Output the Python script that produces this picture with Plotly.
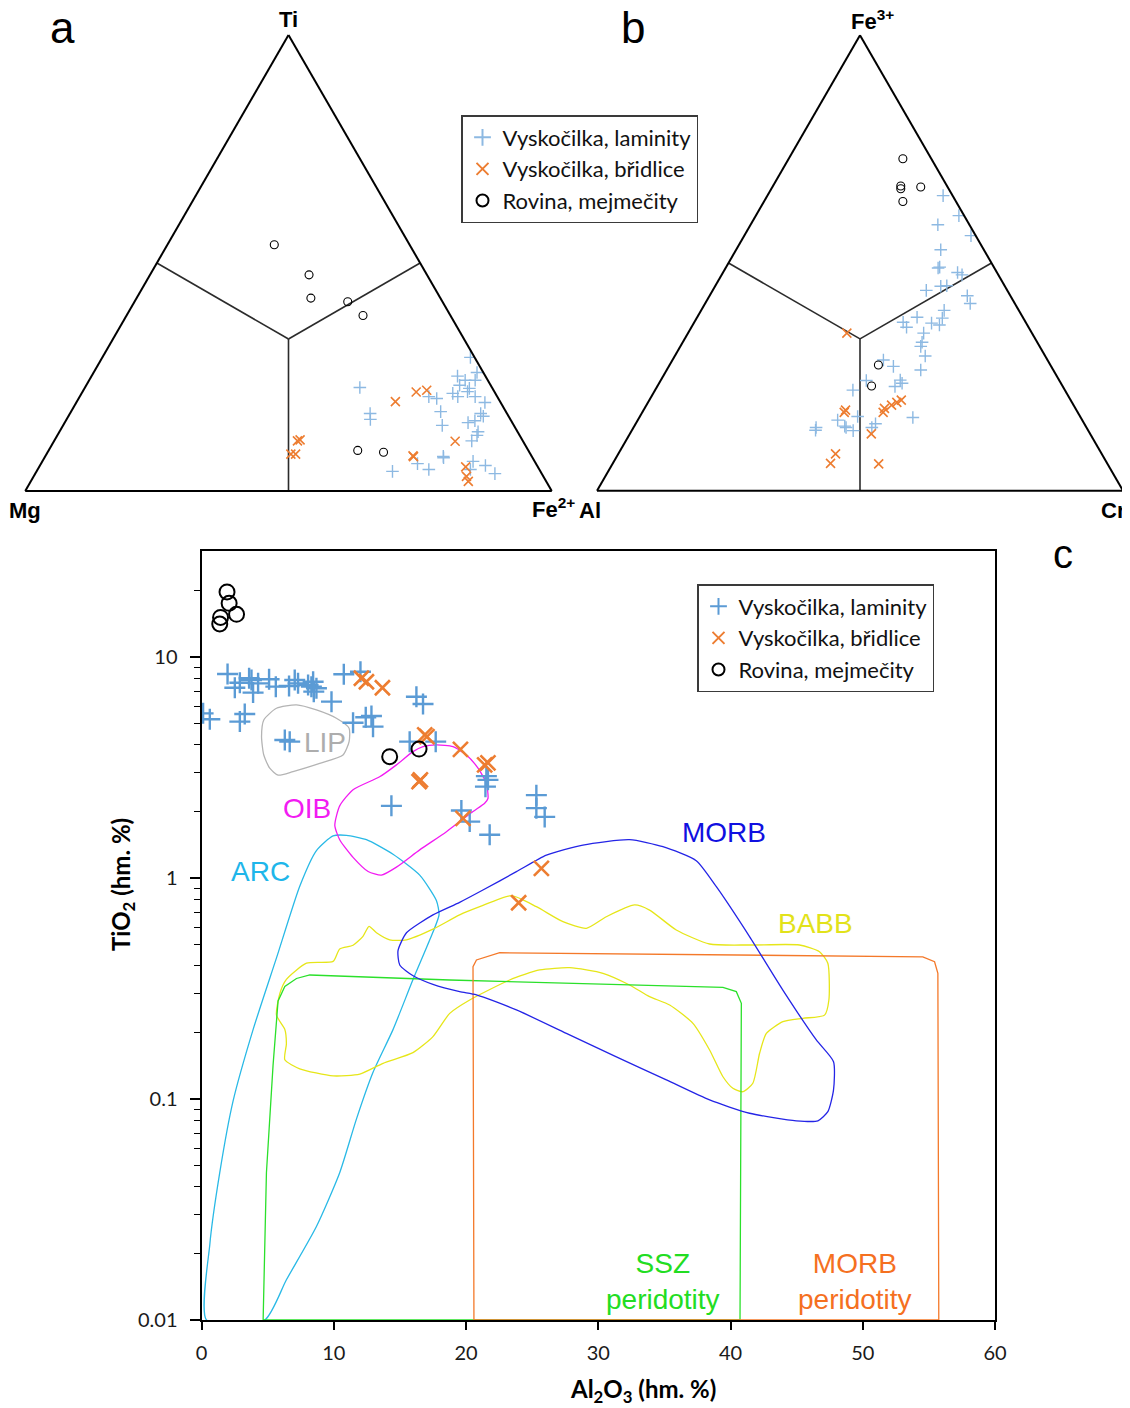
import math
import plotly.graph_objects as go

# ---------------- data ----------------
# Panel a: Ti - Mg - Fe2+ (percent)
a_lam_ti = [22.7,17.0,15.7,14.4,17.4,20.7,20.3,29.3,26.0,25.2,24.3,24.3,23.2,22.5,21.8,20.7,21.4,20.7,19.4,17.0,
            16.4,15.4,15.0,13.0,12.2,11.0,7.3,7.6,6.0,4.7,4.3,6.5,4.7,5.6,3.8]
a_lam_fe = [52.2,57.0,57.7,72.0,70.2,66.3,68.0,69.9,72.8,69.5,71.4,73.3,70.9,73.1,73.1,75.1,70.5,71.8,77.6,78.0,
            78.8,77.7,76.6,79.5,79.7,79.3,75.8,75.6,71.5,74.3,67.6,81.8,82.2,84.6,87.3]
a_lam_mg = [25.1,26.0,26.6,13.6,12.4,13.0,11.7,0.8,1.2,5.3,4.3,2.4,5.9,4.4,5.1,4.2,8.1,7.5,3.0,5.0,
            4.8,6.9,8.4,7.5,8.1,9.7,16.9,16.8,22.5,21.0,28.1,11.7,13.1,9.8,8.9]

a_sh_ti = [11.0,11.2,8.1,8.1,19.6,21.7,22.1,10.9,7.5,7.7,5.3,3.2,2.1]
a_sh_fe = [46.2,46.6,46.4,47.3,60.5,63.4,65.2,76.2,70.0,69.8,81.0,82.2,83.1]
a_sh_mg = [42.8,42.2,45.5,44.6,19.9,14.9,12.7,12.9,22.5,22.5,13.7,14.6,14.8]

a_rov_ti = [54.0,47.4,42.3,41.5,38.5,8.9,8.5]
a_rov_fe = [20.3,30.2,33.1,40.5,44.9,58.7,63.8]
a_rov_mg = [25.7,22.4,24.6,18.0,16.6,32.4,27.7]

# Panel b: Fe3+ - Al - Cr (percent)
b_lam_fe3 = [64.8,60.4,58.4,56.0,52.9,48.9,49.1,47.9,47.4,44.0,44.9,45.0,42.8,41.1,39.6,38.1,37.0,35.9,36.8,36.4,
             37.9,34.6,32.6,31.7,29.6,26.5,28.7,27.3,24.3,22.9,23.6,24.2,22.1,16.3,15.5,14.2,13.9,13.2,13.9,13.3,
             14.7,13.9,16.1]
b_lam_cr = [33.4,38.6,35.6,43.1,38.9,40.4,40.6,44.6,45.7,40.6,42.9,44.0,49.0,50.4,46.2,41.8,39.7,40.9,45.2,46.9,
            46.7,44.8,45.5,45.7,47.6,48.3,40.1,42.7,45.5,45.2,46.2,39.1,37.6,41.4,38.0,40.0,40.4,42.1,34.7,34.9,
            45.6,45.3,52.0]
b_lam_al = [1.8,1.0,6.0,0.9,8.2,10.7,10.3,7.5,6.9,15.4,12.2,11.0,8.2,8.5,14.2,20.1,23.3,23.2,18.0,16.7,
            15.4,20.6,21.9,22.6,22.8,25.2,31.2,30.0,30.2,31.9,30.2,36.7,40.3,42.3,46.5,45.8,45.7,44.7,51.4,51.8,
            39.7,40.8,31.9]

b_sh_fe3 = [34.6,17.7,17.2,18.1,17.2,18.8,19.4,19.9,12.5,8.1,6.0,5.9]
b_sh_cr = [30.2,38.4,38.4,45.6,45.8,46.6,47.3,47.9,45.9,41.3,41.4,50.6]
b_sh_al = [35.2,43.9,44.4,36.3,37.0,34.6,33.3,32.2,41.6,50.6,52.6,43.5]

b_rov_fe3 = [72.9,66.9,66.3,66.7,63.5,27.6,23.0]
b_rov_cr = [21.7,24.3,24.6,28.2,26.4,39.7,40.7]
b_rov_al = [5.4,8.8,9.1,5.1,10.1,32.7,36.3]

# Field boundaries of the ternaries (centroid to side midpoints)
div_top = [33.33, 50, None, 33.33, 50, None, 33.33, 0]
div_left = [33.33, 50, None, 33.33, 0, None, 33.33, 50]
div_right = [33.33, 0, None, 33.33, 50, None, 33.33, 50]

# Panel c: Al2O3 vs TiO2 (wt. %)
c_lam_al = [1.97,2.52,2.9,3.6,3.78,3.9,4.28,5.11,5.62,6.62,7.05,7.3,8.06,8.31,8.44,8.69,8.49,9.83,10.76,12.02,
            0.12,0.63,2.9,3.27,6.3,6.67,11.46,12.42,12.85,12.97,16.25,16.75,15.74,17.71,14.36,21.54,21.66,21.47,19.65,20.28,
            21.79,25.32,25.32,25.95]
c_lam_ti = [8.38,7.26,7.65,8.01,7.87,6.9,7.6,7.93,7.34,7.39,7.87,7.6,7.47,7.34,7.73,7.22,6.97,6.28,8.35,8.58,
            5.56,5.23,5.1,5.52,4.21,4.14,5.04,5.34,5.41,4.84,6.61,6.13,4.14,4.14,2.12,2.89,2.78,2.59,2.02,1.80,
            1.57,2.37,2.07,1.89]
c_sh_al = [12.09,12.47,13.68,16.88,17.05,16.45,16.55,19.58,21.66,21.41,19.77,25.7,23.98]
c_sh_ti = [8.01,7.73,7.26,4.44,4.36,2.73,2.78,3.82,3.32,3.25,1.86,1.106,0.773]
c_rov_al = [1.93,2.09,2.65,1.44,1.38,14.23,16.45]
c_rov_ti = [19.7,17.5,15.6,15.1,14.1,3.54,3.83]

# Discrimination fields (outlines)
lip_al = [4.71,5.67,7.18,8.69,10.2,11.16,11.16,10.7,8.94,6.92,5.79,5.16,4.71,4.54,4.71]
lip_ti = [5.19,5.86,6.07,5.76,5.28,4.76,4.14,3.60,3.30,3.03,2.92,3.14,3.60,4.36,5.19]

oib_al = [10.08,10.45,11.46,13.47,14.74,15.99,16.75,17.76,19.02,20.03,20.91,21.54,21.66,21.41,20.53,18.52,16.5,
          14.74,13.6,12.6,11.46,10.45,10.08]
oib_ti = [1.73,2.12,2.51,2.87,3.25,3.73,3.93,4.00,3.93,3.60,3.14,2.68,2.29,2.18,2.0,1.62,1.34,
          1.12,1.03,1.07,1.24,1.49,1.73]

arc_al = [0.38,0.63,1.38,2.39,3.9,5.67,7.43,8.69,9.95,10.96,12.47,14.48,16.5,17.76,17.96,17.26,16.0,14.48,
          12.97,11.72,10.45,8.69,6.42,4.78,0.38]
arc_ti = [0.01,0.022,0.0464,0.098,0.206,0.435,0.918,1.33,1.55,1.56,1.49,1.28,1.03,0.791,0.681,0.525,0.348,0.206,
          0.132,0.0813,0.0464,0.0265,0.0152,0.01,0.01]

morb_al = [14.86,15.5,17.5,19.52,21.28,23.81,26.08,28.84,32.37,34.89,37.41,38.93,41.44,43.96,46.49,47.79,47.79,
           47.36,46.61,44.97,41.44,38.42,35.15,31.37,27.59,23.81,20.79,19.52,17.5,16.0,14.99,14.86]
morb_ti = [0.469,0.565,0.681,0.776,0.882,1.068,1.27,1.41,1.49,1.386,1.198,0.913,0.543,0.311,0.185,0.1475,0.11,
           0.0876,0.0797,0.0797,0.0862,0.099,0.122,0.155,0.198,0.253,0.296,0.306,0.33,0.361,0.404,0.469]

babb_al = [5.67,5.92,6.42,7.94,9.95,10.45,11.46,12.21,12.67,13.23,14.23,15.5,17.5,19.52,21.04,23.43,25.32,27.33,
           29.1,30.61,32.75,33.88,35.9,38.42,41.44,45.22,46.73,47.36,47.44,47.11,45.47,43.96,42.71,42.2,41.69,
           40.94,40.18,39.43,38.42,37.16,35.4,33.88,32.37,30.36,27.84,25.57,23.3,20.28,18.77,17.5,15.99,13.73,
           11.97,9.95,7.43,6.3,6.42,6.3,5.67]
babb_ti = [0.2396,0.2999,0.348,0.4116,0.4194,0.4777,0.496,0.5448,0.6045,0.565,0.525,0.525,0.5866,0.681,0.7415,
           0.8316,0.7415,0.6343,0.592,0.668,0.755,0.716,0.5817,0.5028,0.4975,0.4975,0.4639,0.4112,0.2805,0.2396,
           0.2318,0.2238,0.198,0.161,0.1178,0.1079,0.1118,0.1261,0.1667,0.22,0.2663,0.2904,0.328,0.3705,0.3927,
           0.3835,0.3455,0.2805,0.244,0.1915,0.162,0.145,0.1296,0.1272,0.137,0.1504,0.178,0.2065,0.2396]

ssz_al = [4.66,4.91,5.41,5.79,6.3,7.18,8.19,18.77,39.43,40.44,40.82,40.72,4.66]
ssz_ti = [0.01,0.0464,0.142,0.278,0.323,0.351,0.364,0.3455,0.320,0.306,0.271,0.01,0.01]

morbp_al = [20.6,20.53,20.79,22.55,54.54,55.43,55.68,55.75,20.6]
morbp_ti = [0.01,0.397,0.4256,0.459,0.44,0.418,0.37,0.01,0.01]

x_ticks = [0, 10, 20, 30, 40, 50, 60]
y_ticks = [0.01, 0.1, 1, 10]
y_tick_text = ['0.01', '0.1', '1', '10']
series_names = ['Vyskočilka, laminity', 'Vyskočilka, břidlice', 'Rovina, mejmečity']

# ---------------- styles ----------------
BLUE = '#5B9BD5'
BLUE_T = '#8DB9E2'
ORANGE = '#ED7D31'
BLACK = '#000000'
TXT = 'Lato'
ARIAL = 'Liberation Sans'

fig = go.Figure()

# ---------- ternary panels ----------
def tern(sub, top, left, right, show):
    fig.add_trace(go.Scatterternary(a=div_top, b=div_left, c=div_right, mode='lines',
                                    line=dict(color='#2b2b2b', width=1.6), subplot=sub,
                                    showlegend=False, hoverinfo='skip'))
    specs = [(top[0], left[0], right[0], 'cross-thin', BLUE_T, 9, 1.4, series_names[0]),
             (top[1], left[1], right[1], 'x-thin', ORANGE, 9, 1.6, series_names[1]),
             (top[2], left[2], right[2], 'circle-open', BLACK, 8, 1.1, series_names[2])]
    for aa, bb, cc, sym, col, sz, lw, nm in specs:
        fig.add_trace(go.Scatterternary(a=aa, b=bb, c=cc, mode='markers', name=nm, subplot=sub,
                                        marker=dict(symbol=sym, size=sz, color=col,
                                                    line=dict(color=col, width=lw)),
                                        showlegend=show, legend='legend'))

tern('ternary', [a_lam_ti, a_sh_ti, a_rov_ti], [a_lam_mg, a_sh_mg, a_rov_mg],
     [a_lam_fe, a_sh_fe, a_rov_fe], True)
tern('ternary2', [b_lam_fe3, b_sh_fe3, b_rov_fe3], [b_lam_al, b_sh_al, b_rov_al],
     [b_lam_cr, b_sh_cr, b_rov_cr], False)

# ---------- panel c fields ----------
fields = [(lip_al, lip_ti, '#B4B4B4', 'spline'),
          (arc_al, arc_ti, '#29B9E6', 'spline'),
          (oib_al, oib_ti, '#F21BF2', 'spline'),
          (babb_al, babb_ti, '#E6E619', 'spline'),
          (ssz_al, ssz_ti, '#2BE02B', 'linear'),
          (morbp_al, morbp_ti, '#F4792A', 'linear'),
          (morb_al, morb_ti, '#2424E6', 'spline')]
for fx, fy, col, shp in fields:
    fig.add_trace(go.Scatter(x=fx, y=fy, mode='lines', line=dict(color=col, width=1.3, shape=shp,
                                                                 smoothing=0.6 if shp == 'spline' else None),
                             showlegend=False, hoverinfo='skip', xaxis='x', yaxis='y'))

c_specs = [(c_lam_al, c_lam_ti, 'cross-thin', BLUE, 15, 2.4, series_names[0]),
           (c_sh_al, c_sh_ti, 'x-thin', ORANGE, 15, 2.6, series_names[1]),
           (c_rov_al, c_rov_ti, 'circle-open', BLACK, 15, 2.0, series_names[2])]
for xx, yy, sym, col, sz, lw, nm in c_specs:
    fig.add_trace(go.Scatter(x=xx, y=yy, mode='markers', name=nm, xaxis='x', yaxis='y',
                             marker=dict(symbol=sym, size=sz, color=col, line=dict(color=col, width=lw)),
                             legend='legend2'))

# ---------- layout ----------
# the page body has an 8 px margin, so the figure is drawn 8 px in from the top-left corner
OFF = 8
W, H = 1130 - OFF, 1408 - OFF
def px(x):
    return (x - OFF) / W
def py(y):
    return 1 - (y - OFF) / H

hidden_axis = dict(showgrid=False, showticklabels=False, ticks='', showline=True,
                   linecolor='black', linewidth=2, title=dict(text=''))

fig.update_layout(
    width=W, height=H, template='none', paper_bgcolor='white', plot_bgcolor='white',
    margin=dict(l=0, r=0, t=0, b=0, autoexpand=False),
    ternary=dict(domain=dict(x=[px(25), px(552)], y=[py(491), py(35)]), sum=100, bgcolor='white',
                 aaxis=hidden_axis, baxis=hidden_axis, caxis=hidden_axis),
    ternary2=dict(domain=dict(x=[px(597), px(1123)], y=[py(491), py(35)]), sum=100, bgcolor='white',
                  aaxis=hidden_axis, baxis=hidden_axis, caxis=hidden_axis),
    xaxis=dict(domain=[px(201.5), px(995)], range=[0, 60], tickvals=x_ticks,
               ticks='outside', ticklen=8, tickwidth=1.5, tickcolor='black', ticklabelstandoff=6,
               showline=True, linecolor='black', linewidth=2, mirror=True, showgrid=False, zeroline=False,
               tickfont=dict(family=TXT, size=20, color='#1a1a1a'), anchor='y'),
    yaxis=dict(domain=[py(1320), py(551)], type='log', range=[-2, 1.4796],
               tickvals=y_ticks, ticktext=y_tick_text,
               ticks='outside', ticklen=10, tickwidth=1.5, tickcolor='black', ticklabelstandoff=8,
               minor=dict(ticks='outside', ticklen=6, tickwidth=1.3, tickcolor='black',
                          tickvals=[m * 10 ** e for e in (-2, -1, 0) for m in range(2, 10)] + [20],
                          showgrid=False),
               showline=True, linecolor='black', linewidth=2, mirror=True, showgrid=False, zeroline=False,
               tickfont=dict(family=TXT, size=20, color='#1a1a1a'), anchor='x'),
    legend=dict(x=px(461), y=py(115), xanchor='left', yanchor='top', bgcolor='white',
                bordercolor='#3a3a3a', borderwidth=1.5, font=dict(family=TXT, size=22, color='#111'),
                itemsizing='constant', tracegroupgap=0),
    legend2=dict(x=px(697), y=py(584), xanchor='left', yanchor='top', bgcolor='white',
                 bordercolor='#3a3a3a', borderwidth=1.5, font=dict(family=TXT, size=22, color='#111'),
                 itemsizing='constant', tracegroupgap=0),
)

ann = []
def pa(text, x, y, size, family=ARIAL, color='black', angle=0, xanchor='center'):
    ann.append(dict(text=text, x=px(x), y=py(y), xref='paper', yref='paper', showarrow=False,
                    font=dict(family=family, size=size, color=color), textangle=angle,
                    xanchor=xanchor, yanchor='middle'))

pa('a', 62, 28, 44)
pa('b', 633, 28, 44)
pa('c', 1063, 554, 40)
pa('<b>Ti</b>', 288, 20, 22)
pa('<b>Mg</b>', 25, 511, 22)
pa('<b>Fe<sup>2+</sup></b>', 553, 508, 22)
pa('<b>Al</b>', 590, 511, 22)
pa('<b>Cr</b>', 1128, 511, 22, xanchor='right')
pa('<b>Fe<sup>3+</sup></b>', 872, 20, 22)
pa('<b>TiO<sub>2</sub> (hm. %)</b>', 122, 885, 24, family=TXT, angle=-90)
pa('<b>Al<sub>2</sub>O<sub>3</sub> (hm. %)</b>', 643, 1390, 24, family=TXT)

def da(text, x, y, color, size=28):
    ann.append(dict(text=text, x=x, y=math.log10(y), xref='x', yref='y', showarrow=False,
                    font=dict(family=ARIAL, size=size, color=color), xanchor='center', yanchor='middle'))

da('LIP', 9.32, 4.12, '#ADADAD')
da('OIB', 7.97, 2.07, '#F21BF2')
da('ARC', 4.48, 1.075, '#1EB6EA')
da('MORB', 39.5, 1.61, '#1010E0')
da('BABB', 46.44, 0.62, '#E2E21A')
da('SSZ<br>peridotity', 34.87, 0.0150, '#22DD22')
da('MORB<br>peridotity', 49.4, 0.0149, '#F5701F')

fig.update_layout(annotations=ann)
fig.write_html('out.html')
